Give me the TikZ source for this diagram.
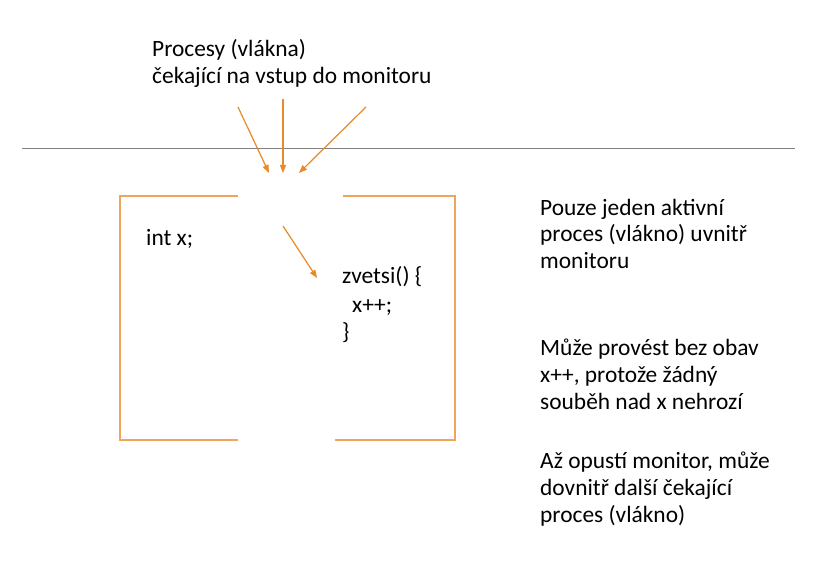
\documentclass[tikz,border=0pt]{standalone}
\usepackage{fontspec}
\setmainfont{Carlito}
\usetikzlibrary{arrows.meta}
\definecolor{boxorange}{RGB}{240,165,90}
\definecolor{arroworange}{RGB}{232,138,40}
\definecolor{rulegray}{RGB}{128,128,128}
\begin{document}
\begin{tikzpicture}[x=1pt,y=-1pt,
  txt/.style={anchor=base west,inner sep=0pt,font=\fontsize{23.4}{27}\selectfont},
  wall/.style={draw=boxorange,line width=1.5pt},
  arr/.style={draw=arroworange,line width=1.2pt,-{Triangle[length=8pt,width=6pt]}}]
\useasboundingbox (0,0) rectangle (837,585);
\fill[white] (0,0) rectangle (837,585);
% horizontal rule
\coordinate (r1) at (22,148);
\coordinate (r2) at (795,148);
\draw[rulegray,line width=0.9pt] (r1) -- (r2);
% monitor walls
\coordinate (tl) at (120,196);
\coordinate (tlg) at (238,196);
\coordinate (bl) at (120,440);
\coordinate (blg) at (238,440);
\coordinate (trg) at (343,196);
\coordinate (tr) at (455,196);
\coordinate (brg) at (335,440);
\coordinate (br) at (455,440);
\draw[wall] (tlg) -- (tl) -- (bl) -- (blg);
\draw[wall] (trg) -- (tr) -- (br) -- (brg);
% top text
\node[txt] (t1) at (152,57) {Procesy (vlákna)};
\node[txt] (t2) at (152,84) {čekající na vstup do monitoru};
% arrows
\coordinate (a1s) at (238,107);
\coordinate (a1e) at (269,173);
\coordinate (a2s) at (283,99);
\coordinate (a2e) at (283,173);
\coordinate (a3s) at (366,107);
\coordinate (a3e) at (299,173);
\coordinate (a4s) at (283,226);
\coordinate (a4e) at (317,278);
\draw[arr] (a1s) -- (a1e);
\draw[arr] (a2s) -- (a2e);
\draw[arr] (a3s) -- (a3e);
\draw[arr] (a4s) -- (a4e);
% code
\node[txt] (c1) at (146,245) {int x;};
\node[txt] (c2) at (342,283) {zvetsi() \{};
\node[txt] (c3) at (352,312) {x++;};
\node[txt] (c4) at (342,339) {\}};
% right notes
\node[txt] (n1) at (540,215) {Pouze jeden aktivní};
\node[txt] (n2) at (540,242) {proces (vlákno) uvnitř};
\node[txt] (n3) at (540,269) {monitoru};
\node[txt] (n4) at (540,355) {Může provést bez obav};
\node[txt] (n5) at (540,382) {x++, protože žádný};
\node[txt] (n6) at (540,409) {souběh nad x nehrozí};
\node[txt] (n7) at (540,468) {Až opustí monitor, může};
\node[txt] (n8) at (540,495) {dovnitř další čekající};
\node[txt] (n9) at (540,522) {proces (vlákno)};
\end{tikzpicture}
\end{document}
